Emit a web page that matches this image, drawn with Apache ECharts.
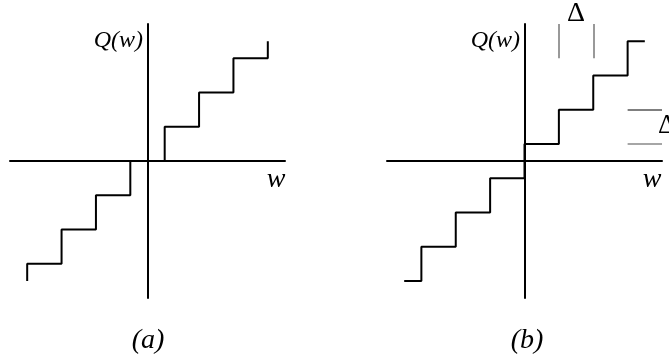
<!DOCTYPE html>
<html>
<head>
<meta charset="utf-8">
<script src="https://cdn.jsdelivr.net/npm/echarts@6/dist/echarts.min.js"></script>
<style>
  html, body { margin: 0; padding: 0; background: #fff; }
  #chart { width: 669px; height: 359px; }
</style>
</head>
<body>
<div id="chart"></div>
<script>
// Quantizer transfer curves, in units of the step size Δ.
// (a) mid-tread: vertical risers at the half-integer thresholds.
const wMidTread = [-3.5, -2.5, -1.5, -0.5, 0.5, 1.5, 2.5, 3.5, 3.5];
const qMidTread = [-3.5, -3, -2, -1, 0, 1, 2, 3, 3.5];
// (b) mid-rise: output levels at half-integers, risers at integer thresholds.
const wMidRise = [-3.5, -3, -2, -1, 0, 1, 2, 3, 3.5];
const qMidRise = [-3.5, -2.5, -1.5, -0.5, 0.5, 1.5, 2.5, 3.5, 3.5];
// Δ brackets on panel (b): a horizontal step width and a vertical step height.
const stepWidthBracket = { xs: [1, 2], y: [3, 4] };
const stepHeightBracket = { ys: [1.5, 0.5], x: [3, 4] };
const axisRange = [-4, 4];

const zip = (xs, ys) => xs.map((x, i) => [x, ys[i]]);

const chart = echarts.init(document.getElementById('chart'), null, { renderer: 'canvas' });

const grids = [
  { left: 10, top: 24, width: 275, height: 274 },
  { left: 387, top: 24, width: 275, height: 274 }
];

function axis(gridIndex) {
  return {
    type: 'value', gridIndex, min: axisRange[0], max: axisRange[1],
    axisLine: { show: true, onZero: true, lineStyle: { color: '#000', width: 2 } },
    axisTick: { show: false }, axisLabel: { show: false }, splitLine: { show: false }
  };
}

const grayLine = (c) => ({ color: c, width: 1.5, type: 'solid' });
const serif = '"Liberation Serif", "Times New Roman", serif';

function label(id, text, x, y, size, align, style) {
  return {
    id, type: 'text', x, y,
    style: {
      text, fontFamily: serif, fontStyle: style || 'italic', fontSize: size, fill: '#000',
      align: align || 'center', verticalAlign: 'middle'
    }
  };
}

chart.setOption({
  animation: false,
  backgroundColor: '#fff',
  grid: grids,
  xAxis: [axis(0), axis(1)],
  yAxis: [axis(0), axis(1)],
  series: [
    {
      type: 'line', xAxisIndex: 0, yAxisIndex: 0, step: 'start',
      data: zip(wMidTread, qMidTread), showSymbol: false, symbol: 'none',
      lineStyle: { color: '#000', width: 2 }, z: 3
    },
    {
      type: 'line', xAxisIndex: 1, yAxisIndex: 1, step: 'end',
      data: zip(wMidRise, qMidRise), showSymbol: false, symbol: 'none',
      lineStyle: { color: '#000', width: 2 }, z: 3,
      markLine: {
        silent: true, symbol: ['none', 'none'], animation: false,
        label: { show: false },
        data: [
          [{ coord: [stepWidthBracket.xs[0], stepWidthBracket.y[0]], lineStyle: grayLine('#777') },
           { coord: [stepWidthBracket.xs[0], stepWidthBracket.y[1]] }],
          [{ coord: [stepWidthBracket.xs[1], stepWidthBracket.y[0]], lineStyle: grayLine('#777') },
           { coord: [stepWidthBracket.xs[1], stepWidthBracket.y[1]] }],
          [{ coord: [stepHeightBracket.x[0], stepHeightBracket.ys[0]], lineStyle: grayLine('#555') },
           { coord: [stepHeightBracket.x[1], stepHeightBracket.ys[0]] }],
          [{ coord: [stepHeightBracket.x[0], stepHeightBracket.ys[1]], lineStyle: grayLine('#888') },
           { coord: [stepHeightBracket.x[1], stepHeightBracket.ys[1]] }]
        ]
      }
    }
  ],
  graphic: [
    label('qa', 'Q(w)', 143, 41, 24, 'right'),
    label('qb', 'Q(w)', 520, 41, 24, 'right'),
    label('wa', 'w', 276, 180, 28),
    label('wb', 'w', 652, 180, 28),
    label('capA', '(a)', 148, 341, 28),
    label('capB', '(b)', 527, 341, 28)
  ]
});

// Δ captions sit beside their brackets, placed through panel (b)'s axes.
const topDelta = chart.convertToPixel({ gridIndex: 1 },
  [(stepWidthBracket.xs[0] + stepWidthBracket.xs[1]) / 2, stepWidthBracket.y[1]]);
const sideDelta = chart.convertToPixel({ gridIndex: 1 },
  [stepHeightBracket.x[1], (stepHeightBracket.ys[0] + stepHeightBracket.ys[1]) / 2]);
chart.setOption({
  graphic: [
    label('deltaTop', 'Δ', topDelta[0], topDelta[1] - 10, 28, 'center', 'normal'),
    label('deltaSide', 'Δ', sideDelta[0] - 4, sideDelta[1] - 1, 28, 'left', 'normal')
  ]
});
</script>
</body>
</html>
